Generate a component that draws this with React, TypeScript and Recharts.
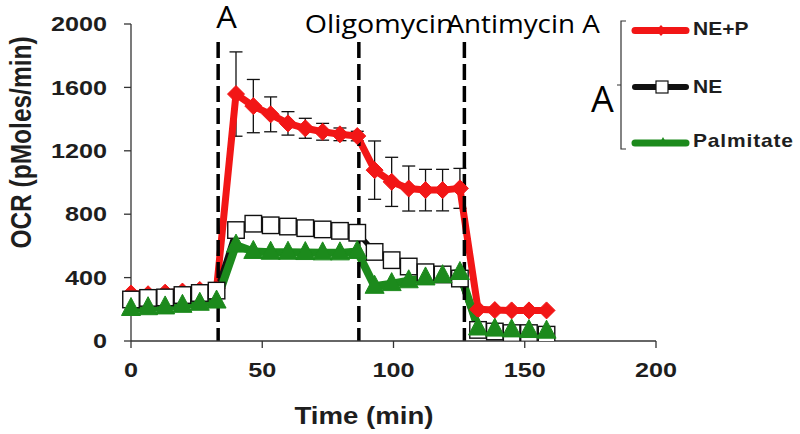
import React from 'react';
import { LineChart, Line, XAxis, YAxis, ReferenceLine, ErrorBar, Legend } from 'recharts';

// time points (min)
const times = [
  0, 6.5, 13, 19.6, 26.2, 32.6,
  40, 46.6, 53.2, 59.8, 66.4, 73, 79.6, 86.2,
  92.8, 99.3, 105.8, 112.2, 118.7, 125.3,
  132.2, 138.6, 145, 151.6, 158.3,
];
// NE+P OCR (pMoles/min)
const nePlusP = [
  300, 295, 305, 312, 322, 330,
  1558, 1482, 1430, 1373, 1342, 1320, 1304, 1293,
  1078, 1004, 962, 952, 952, 963,
  200, 195, 193, 193, 193,
];
// NE+P error (SEM)
const nePlusPErr = [
  0, 0, 0, 0, 0, 0,
  266, 168, 110, 74, 63, 53, 40, 30,
  184, 155, 142, 131, 131, 126,
  0, 0, 0, 0, 0,
];
// NE
const neOnly = [
  262, 272, 275, 290, 303, 318,
  700, 740, 730, 722, 712, 704, 695, 683,
  562, 510, 470, 434, 420, 394,
  70, 60, 50, 50, 40,
];
// Palmitate
const palmitate = [
  205, 210, 215, 225, 238, 252,
  605, 565, 560, 560, 558, 556, 556, 565,
  345, 362, 380, 398, 412, 432,
  82, 75, 70, 66, 62,
];

const xTicks = [0, 50, 100, 150, 200];
const yTicks = [0, 400, 800, 1200, 1600, 2000];
const injections = [
  { t: 33.2, label: 'A', dx: -2, dy: 28, size: 31, sx: 1.05 },
  { t: 86.8, label: 'Oligomycin', dx: -54, dy: 33, size: 26, sx: 1.1 },
  { t: 127, label: 'Antimycin A', dx: -18, dy: 33, size: 26, sx: 1.07 },
];
const legendItems = ['NE+P', 'NE', 'Palmitate'];
const bracketLabel = 'A';
const yTitle = 'OCR (pMoles/min)';
const xTitle = 'Time (min)';

const data = times.map((t, i) => ({
  t,
  nep: nePlusP[i],
  nepErr: nePlusPErr[i],
  ne: neOnly[i],
  pal: palmitate[i],
}));

const RED = '#f21616';
const GREEN = '#1c8a1c';
const BOLD_FONT = '"Liberation Sans", Arial, sans-serif';
const THIN_FONT = '"Open Sans", "Noto Sans", sans-serif';

const Diamond = (p: any) => {
  const { cx, cy } = p;
  if (cx == null || cy == null) return null;
  const r = 8.5;
  return (
    <polygon
      key={`dm${p.index}`}
      points={`${cx},${cy - r} ${cx + r},${cy} ${cx},${cy + r} ${cx - r},${cy}`}
      fill={RED}
      stroke={RED}
      strokeWidth={1}
    />
  );
};

const Square = (p: any) => {
  const { cx, cy } = p;
  if (cx == null || cy == null) return null;
  const s = 16.5;
  return (
    <rect
      key={`sq${p.index}`}
      x={cx - s / 2}
      y={cy - s / 2}
      width={s}
      height={s}
      fill="#fff"
      stroke="#111"
      strokeWidth={1.4}
    />
  );
};

const Triangle = (p: any) => {
  const { cx, cy } = p;
  if (cx == null || cy == null) return null;
  const w = 9.5;
  return (
    <polygon
      key={`tr${p.index}`}
      points={`${cx},${cy - 11} ${cx + w},${cy + 7} ${cx - w},${cy + 7}`}
      fill={GREEN}
      stroke={GREEN}
      strokeWidth={1}
    />
  );
};

const YTick = (props: any) => {
  const { x, y, payload } = props;
  return (
    <text
      transform={`translate(${x - 15},${y}) scale(1.2,1)`}
      textAnchor="end"
      dominantBaseline="central"
      fontFamily={BOLD_FONT}
      fontWeight="bold"
      fontSize={21}
      fill="#1e1e1e"
    >
      {payload.value}
    </text>
  );
};

const XTick = (props: any) => {
  const { x, y, payload } = props;
  return (
    <text
      transform={`translate(${x},${y + 20}) scale(1.2,1)`}
      textAnchor="middle"
      dominantBaseline="central"
      fontFamily={BOLD_FONT}
      fontWeight="bold"
      fontSize={21}
      fill="#1e1e1e"
    >
      {payload.value}
    </text>
  );
};

const injectionLabel = (inj: any) => (props: any) => {
  const vb = props.viewBox || {};
  const x = vb.x ?? 0;
  return (
    <text
      transform={`translate(${x + inj.dx},${inj.dy}) scale(${inj.sx},1)`}
      fontFamily={THIN_FONT}
      fontSize={inj.size}
      fill="#000"
    >
      {inj.label}
    </text>
  );
};

const renderLegend = () => (
  <svg width={220} height={160} style={{ overflow: 'visible', display: 'block' }}>
    <g transform="translate(-580,-10)">
      {/* bracket */}
      <path d="M626,21 L621,21 L621,149 L626,149 M621,85 L617,85" stroke="#333" strokeWidth={1.2} fill="none" />
      <text x={591} y={112} fontFamily={THIN_FONT} fontSize={36} fill="#000">{bracketLabel}</text>
      {/* NE+P */}
      <line x1={635} y1={30.5} x2={686} y2={30.5} stroke={RED} strokeWidth={7} strokeLinecap="round" />
      <polygon points="661,25 666,30.5 661,36 656,30.5" fill={RED} />
      {/* NE */}
      <line x1={635} y1={87} x2={686} y2={87} stroke="#111" strokeWidth={6} strokeLinecap="round" />
      <rect x={656} y={81} width={12} height={12} fill="#fff" stroke="#111" strokeWidth={1.2} />
      {/* Palmitate */}
      <line x1={635} y1={143} x2={686} y2={143} stroke={GREEN} strokeWidth={7} strokeLinecap="round" />
      <polygon points="663,137 668,146 658,146" fill={GREEN} />
      {legendItems.map((name, i) => (
        <text
          key={name}
          transform={`translate(693,${[29.5, 87, 141.5][i]}) scale(1.2,1)`}
          dominantBaseline="central"
          fontFamily={BOLD_FONT}
          fontWeight="bold"
          fontSize={17.5}
          letterSpacing={i === 2 ? 0.7 : 0}
          fill="#1e1e1e"
        >
          {name}
        </text>
      ))}
    </g>
  </svg>
);

export default function App() {
  return (
    <div style={{ position: 'absolute', left: 0, top: 0, width: 800, height: 434, background: '#fff' }}>
      <LineChart
        width={800}
        height={434}
        data={data}
        margin={{ top: 24, right: 144, bottom: 33, left: 0 }}
      >
        <XAxis
          dataKey="t"
          type="number"
          domain={[0, 200]}
          ticks={xTicks}
          height={60}
          tickSize={7}
          axisLine={{ stroke: '#333', strokeWidth: 1.3 }}
          tickLine={{ stroke: '#333', strokeWidth: 1.3 }}
          tick={<XTick />}
          label={{
            content: () => (
              <text
                transform="translate(364,416) scale(1.2,1)"
                textAnchor="middle"
                dominantBaseline="central"
                fontFamily={BOLD_FONT}
                fontWeight="bold"
                fontSize={23}
                fill="#1e1e1e"
              >
                {xTitle}
              </text>
            ),
          }}
        />
        <YAxis
          type="number"
          domain={[0, 2000]}
          ticks={yTicks}
          width={131}
          tickSize={7}
          allowDataOverflow
          axisLine={{ stroke: '#333', strokeWidth: 1.3 }}
          tickLine={{ stroke: '#333', strokeWidth: 1.3 }}
          tick={<YTick />}
          label={{
            content: () => (
              <text
                transform="translate(21,142.5) rotate(-90) scale(1,1.2)"
                textAnchor="middle"
                dominantBaseline="central"
                fontFamily={BOLD_FONT}
                fontWeight="bold"
                fontSize={24.5}
                fill="#1e1e1e"
              >
                {yTitle}
              </text>
            ),
          }}
        />
        <Legend
          layout="vertical"
          align="center"
          verticalAlign="middle"
          content={renderLegend}
          wrapperStyle={{ position: 'absolute', left: 580, top: 10, width: 220, height: 160 }}
        />
        <Line
          dataKey="nep"
          stroke={RED}
          strokeWidth={7}
          dot={(p: any) => <Diamond key={`d${p.index}`} {...p} />}
          activeDot={false}
          isAnimationActive={false}
          legendType="none"
        >
          <ErrorBar dataKey="nepErr" width={6.5} stroke="#111" strokeWidth={1.3} direction="y" />
        </Line>
        <Line
          dataKey="ne"
          stroke="#111"
          strokeWidth={5}
          dot={(p: any) => <Square key={`s${p.index}`} {...p} />}
          activeDot={false}
          isAnimationActive={false}
          legendType="none"
        />
        <Line
          dataKey="pal"
          stroke={GREEN}
          strokeWidth={8}
          dot={(p: any) => <Triangle key={`t${p.index}`} {...p} />}
          activeDot={false}
          isAnimationActive={false}
          legendType="none"
        />
        {injections.map((inj) => (
          <ReferenceLine
            key={inj.label}
            segment={[{ x: inj.t, y: 1887 }, { x: inj.t, y: 0 }]}
            stroke="#000"
            strokeWidth={3.5}
            strokeDasharray="16 6"
            label={injectionLabel(inj)}
          />
        ))}
      </LineChart>
    </div>
  );
}
